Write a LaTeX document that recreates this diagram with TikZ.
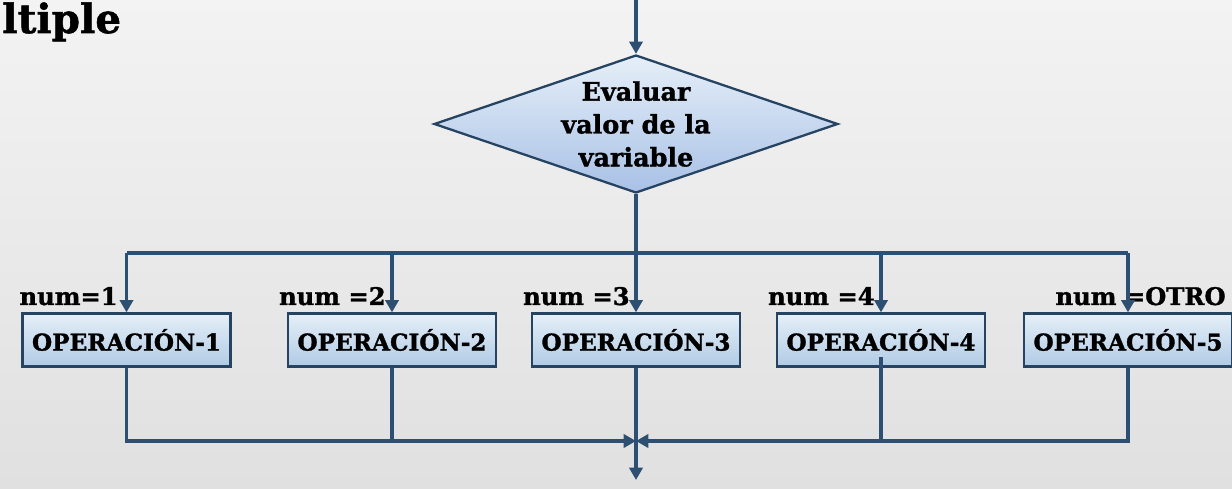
\documentclass[tikz,border=0pt]{standalone}
\usepackage{fontspec}
\setmainfont{DejaVu Serif}
\newfontface\heavyfont[FakeBold=1.3]{DejaVu Serif Bold}
\usetikzlibrary{shapes.geometric,arrows.meta}
\definecolor{linecol}{HTML}{2D4F72}
\definecolor{boxtop}{HTML}{E6EFF8}
\definecolor{boxbot}{HTML}{B1CBE5}
\definecolor{bgtop}{HTML}{F3F3F3}
\definecolor{bgbot}{HTML}{E0E0E0}

\begin{document}
\begin{tikzpicture}
	[x=0.02cm,y=-0.02cm,every node/.style={font=\heavyfont}]
	\tikzstyle{edges} = [linecol, line width=1.9pt];
	\tikzstyle{arr} = [edges, -{Triangle[width=7.5pt,length=7pt]}];
	\tikzstyle{opbox} = [rectangle, draw=linecol!85!black, line width=1.3pt, top color=boxtop, bottom color=boxbot, minimum width=4.16cm, minimum height=1.06cm, font=\heavyfont\fontsize{13.2}{15}\selectfont];
	\tikzstyle{decision} = [diamond, draw=linecol!85!black, line width=1.3pt, top color=boxtop, bottom color=boxbot!95!blue, minimum width=8.08cm, minimum height=2.76cm, inner sep=0pt];
	\tikzstyle{numlbl} = [anchor=base east, inner sep=0pt, font=\heavyfont\fontsize{13.8}{15}\selectfont];
	
	\fill[top color=bgtop, bottom color=bgbot] (0,0) rectangle (1232,489);
	\useasboundingbox (0,0) rectangle (1232,489);
	
	\node[anchor=base west, inner sep=0pt, font=\heavyfont\fontsize{23}{26}\selectfont] (title) at (2,33) {ltiple};
	
	\node[decision] (eval) at (636,124) {};
	\node[align=center, font=\heavyfont\fontsize{14.5}{18.7}\selectfont] (evaltxt) at (eval) {Evaluar\\valor de la\\variable};
	
	\node[opbox] (op1) at (126.5,340) {OPERACIÓN-1};
	\node[opbox] (op2) at (392,340) {OPERACIÓN-2};
	\node[opbox] (op3) at (636,340) {OPERACIÓN-3};
	\node[opbox] (op4) at (881,340) {OPERACIÓN-4};
	\node[opbox] (op5) at (1128,340) {OPERACIÓN-5};
	
	\coordinate (top) at (636,0);
	\coordinate (split) at (636,253);
	\coordinate (join) at (636,441);
	\coordinate (out) at (636,480);
	
	\node[numlbl] (n1) at (118,305) {num=1};
	\node[numlbl] (n2) at (386,305) {num =2};
	\node[numlbl] (n3) at (630,305) {num =3};
	\node[numlbl] (n4) at (875,305) {num =4};
	\node[numlbl] (n5) at (1226,305) {num =OTRO};
	
	\draw[arr] (top) -- (eval);
	\draw[edges] (eval) -- (split);
	\draw[edges] (op1.north |- split) -- (op5.north |- split);
	\foreach \i in {1,...,5}
		\draw[arr] (op\i.north |- split) -- (op\i);
	
	\draw[arr] (op1) |- (join);
	\draw[edges] (op2) -- (op2 |- join);
	\draw[arr] (op5) |- (join);
	\draw[edges] ([yshift=6pt]op4.south) -- (op4 |- join);
	\draw[arr] (op3) -- (out);
\end{tikzpicture}
\end{document}
